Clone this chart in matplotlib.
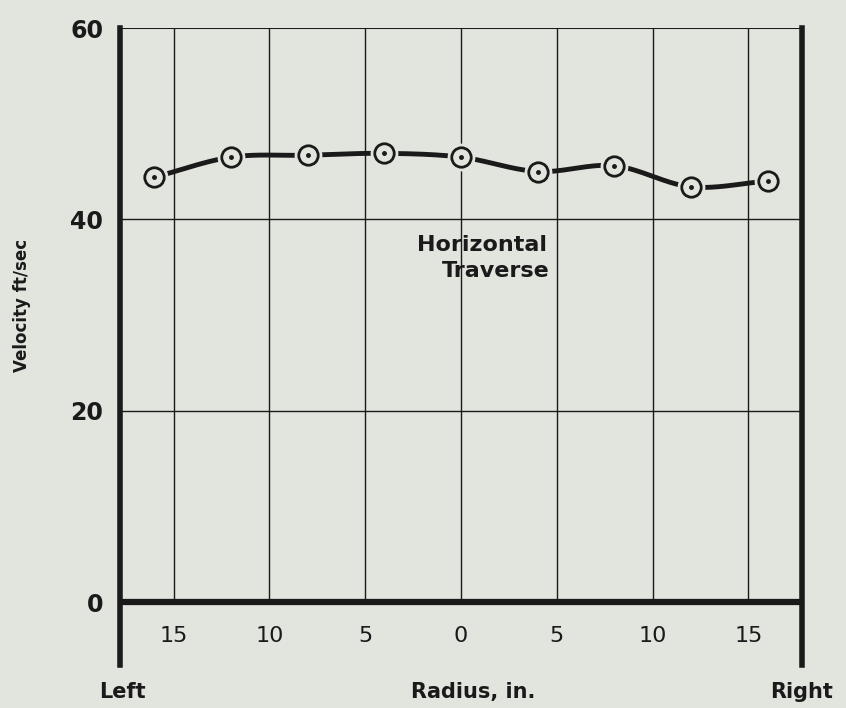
import numpy as np
import matplotlib
matplotlib.use("Agg")
import matplotlib.pyplot as plt

# ---- data ----
radius = [-16, -12, -8, -4, 0, 4, 8, 12, 16]
velocity = [44.4, 46.5, 46.7, 46.9, 46.5, 45.0, 45.6, 43.4, 44.0]
grid_x = [-15, -10, -5, 0, 5, 10, 15]
x_tick_labels = ["15", "10", "5", "0", "5", "10", "15"]
y_ticks = [0, 20, 40, 60]

BG = "#e2e4de"
INK = "#1a1a1a"

def catmull_rom(xs, ys, n=30):
    xs = np.asarray(xs, float); ys = np.asarray(ys, float)
    px = np.concatenate([[2*xs[0]-xs[1]], xs, [2*xs[-1]-xs[-2]]])
    py = np.concatenate([[2*ys[0]-ys[1]], ys, [2*ys[-1]-ys[-2]]])
    ox, oy = [], []
    for i in range(1, len(px)-2):
        t = np.linspace(0, 1, n, endpoint=False)
        for arr, out in ((px, ox), (py, oy)):
            p0, p1, p2, p3 = arr[i-1], arr[i], arr[i+1], arr[i+2]
            out.extend(0.5*((2*p1) + (-p0+p2)*t + (2*p0-5*p1+4*p2-p3)*t**2 + (-p0+3*p1-3*p2+p3)*t**3))
    ox.append(xs[-1]); oy.append(ys[-1])
    return np.array(ox), np.array(oy)

fig = plt.figure(figsize=(8.46, 7.08), dpi=100, facecolor=BG)
ax = fig.add_axes([120/846, 1-665/708, (802-120)/846, (665-28)/708])
ax.set_facecolor(BG)
ax.set_xlim(-17.8, 17.8)
ax.set_ylim(-6.585, 60)

for s in ("top", "bottom"):
    ax.spines[s].set_visible(False)
for s in ("left", "right"):
    ax.spines[s].set_linewidth(4)
    ax.spines[s].set_color(INK)

# grid
for gx in grid_x:
    ax.plot([gx, gx], [0, 60], color=INK, lw=1.0, zorder=1)
for gy in (20, 40):
    ax.axhline(gy, color=INK, lw=1.0, zorder=1)
ax.axhline(60, color=INK, lw=1.5, zorder=1)
ax.axhline(0, color=INK, lw=4.5, zorder=2)

# curve
cx, cy = catmull_rom(radius, velocity)
ax.plot(cx, cy, color=INK, lw=3.5, solid_capstyle="round", zorder=3)
ax.plot(radius, velocity, linestyle="none", marker="o", markersize=19,
        markerfacecolor=BG, markeredgecolor=BG, zorder=4)
ax.plot(radius, velocity, linestyle="none", marker="o", markersize=14,
        markerfacecolor=BG, markeredgecolor=INK, markeredgewidth=2.0, zorder=5)
ax.plot(radius, velocity, linestyle="none", marker="o", markersize=2.5,
        color=INK, zorder=6)

# ticks
ax.set_xticks([])
ax.set_yticks(y_ticks)
ax.set_yticklabels([str(v) for v in y_ticks], fontsize=17, fontweight="bold", color=INK)
ax.tick_params(axis="y", length=0, pad=12)
for gx, lab in zip(grid_x, x_tick_labels):
    ax.text(gx, -3.55, lab, ha="center", va="center", fontsize=16, color=INK)

ax.text(1.1, 37.3, "Horizontal", ha="center", va="center", fontsize=16, fontweight="bold", color=INK)
ax.text(1.8, 34.6, "Traverse", ha="center", va="center", fontsize=16, fontweight="bold", color=INK)

fig.text(122/846, 1-692/708, "Left", ha="center", va="center", fontsize=15, fontweight="bold", color=INK)
fig.text(473/846, 1-692/708, "Radius, in.", ha="center", va="center", fontsize=15, fontweight="bold", color=INK)
fig.text(802/846, 1-692/708, "Right", ha="center", va="center", fontsize=15, fontweight="bold", color=INK)
fig.text(22/846, 1-305/708, "Velocity ft/sec", ha="center", va="center", rotation=90,
         fontsize=12, fontweight="bold", color=INK)

fig.savefig("out.png", dpi=100, facecolor=BG)
